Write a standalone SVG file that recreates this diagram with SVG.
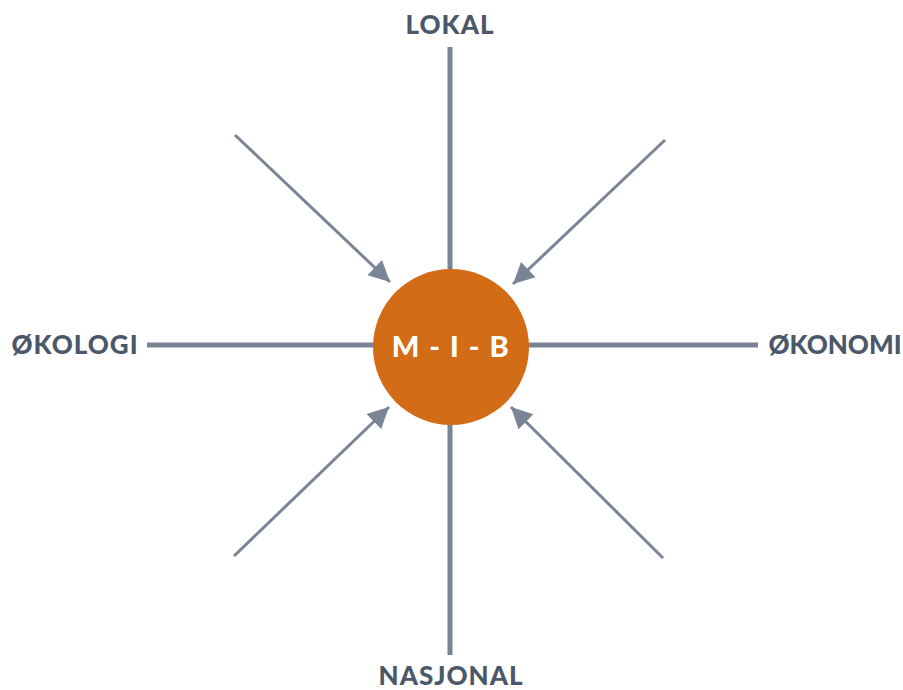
<svg xmlns="http://www.w3.org/2000/svg" width="903" height="690" viewBox="0 0 903 690">
<style>
.lbl{font-family:Lato,"Open Sans","Liberation Sans",sans-serif;font-weight:900;font-size:26px;letter-spacing:1px;fill:#4b5869}
.axis{stroke:#7a8494;stroke-width:5;fill:none}
.arr{stroke:#7a8494;stroke-width:3;fill:none}
</style>
<defs>
<marker id="ah" viewBox="0 0 10 10" refX="10" refY="5" markerWidth="8" markerHeight="7" markerUnits="strokeWidth" orient="auto">
<path d="M0,0 L10,5 L0,10 Z" fill="#7a8494"/>
</marker>
</defs>
<rect width="903" height="690" fill="#fff"/>
<g id="connectors">
<line class="axis" x1="450" y1="47" x2="450" y2="270"/>
<line class="axis" x1="450" y1="424" x2="450" y2="655"/>
<line class="axis" x1="147" y1="345" x2="374" y2="345"/>
<line class="axis" x1="528" y1="345" x2="758" y2="345"/>
<line class="arr" x1="235" y1="135" x2="390" y2="282" marker-end="url(#ah)"/>
<line class="arr" x1="665" y1="140" x2="513" y2="284" marker-end="url(#ah)"/>
<line class="arr" x1="234" y1="556" x2="389" y2="407" marker-end="url(#ah)"/>
<line class="arr" x1="663" y1="558" x2="511" y2="407" marker-end="url(#ah)"/>
</g>
<g id="center">
<circle cx="451" cy="347" r="78" fill="#d26c17"/>
<text x="451" y="357" text-anchor="middle" font-family="Lato,'Open Sans','Liberation Sans',sans-serif" font-weight="900" font-size="29" letter-spacing="1.5" fill="#fff">M - I - B</text>
</g>
<g id="lokal"><text class="lbl" x="450" y="34" text-anchor="middle">LOKAL</text></g>
<g id="nasjonal"><text class="lbl" x="451" y="685" text-anchor="middle">NASJONAL</text></g>
<g id="okologi"><text class="lbl" x="75" y="354" text-anchor="middle">ØKOLOGI</text></g>
<g id="okonomi"><text class="lbl" x="835" y="354" text-anchor="middle" style="letter-spacing:0">ØKONOMI</text></g>
</svg>
